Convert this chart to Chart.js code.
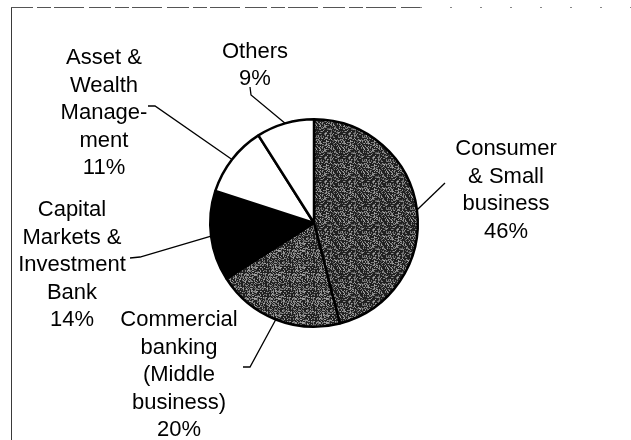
<!DOCTYPE html>
<html>
<head>
<meta charset="utf-8">
<script src="https://cdn.jsdelivr.net/npm/chart.js@4"></script>
<style>
  html, body { margin: 0; padding: 0; background: #fff; }
  canvas { display: block; }
</style>
</head>
<body>
<canvas id="segmentChart" width="631" height="440"></canvas>
<script>
const segments = ["Consumer & Small business", "Commercial banking (Middle business)", "Capital Markets & Investment Bank", "Asset & Wealth Management", "Others"];
const shares = [46, 20, 14, 11, 9];
const labelLines = [
    ["Consumer", "& Small", "business"],
    ["Commercial", "banking", "(Middle", "business)"],
    ["Capital", "Markets &", "Investment", "Bank"],
    ["Asset &", "Wealth", "Manage-", "ment"],
    ["Others"]
];

// where each text block sits and how its leader line bends
const labelLayout = [
    { x: 506, y: 155, path: [[445, 183]] },
    { x: 179, y: 326, path: [[250, 367], [243, 367]] },
    { x: 72, y: 216, path: [[140, 257], [130, 258]] },
    { x: 104, y: 64, path: [[155, 106], [148, 106]] },
    { x: 255, y: 57.5, path: [[251, 95], [250, 87]] }
];
const LINE_HEIGHT = 27.6;

// speckled grey fill like an old laser print
function speckle(density, seed) {
    const size = 24;
    const c = document.createElement("canvas");
    c.width = size;
    c.height = size;
    const g = c.getContext("2d");
    g.fillStyle = "#202020";
    g.fillRect(0, 0, size, size);
    let s = seed;
    for (let y = 0; y < size; y++) {
        for (let x = 0; x < size; x++) {
            s = (s * 1103515245 + 12345) % 2147483648;
            const r = s / 2147483648;
            if (r < density) {
                const v = 80 + Math.floor((r / density) * 90);
                g.fillStyle = `rgb(${v},${v},${v})`;
                g.fillRect(x, y, 1, 1);
            }
        }
    }
    return g.createPattern(c, "repeat");
}

const ctx = document.getElementById("segmentChart").getContext("2d");

const frame = {
    id: "frame",
    beforeDraw(chart) {
        const c = chart.ctx;
        c.save();
        c.strokeStyle = "#3a3a3a";
        c.lineWidth = 1;
        c.beginPath();
        c.moveTo(11.5, 8);
        c.lineTo(11.5, 440);
        c.stroke();
        c.strokeStyle = "#555";
        c.setLineDash([22, 4, 14, 3, 30, 5]);
        c.beginPath();
        c.moveTo(11, 7.5);
        c.lineTo(420, 7.5);
        c.stroke();
        c.setLineDash([2, 28]);
        c.strokeStyle = "#888";
        c.beginPath();
        c.moveTo(420, 7.5);
        c.lineTo(631, 7.5);
        c.stroke();
        c.restore();
    }
};

const sliceLabels = {
    id: "sliceLabels",
    afterDraw(chart) {
        const c = chart.ctx;
        const arcs = chart.getDatasetMeta(0).data;
        c.save();
        c.fillStyle = "#000";
        c.strokeStyle = "#000";
        c.lineWidth = 1.3;
        c.font = "22px 'Liberation Sans', Arial, sans-serif";
        c.textAlign = "center";
        c.textBaseline = "alphabetic";

        arcs.forEach((arc, i) => {
            const lay = labelLayout[i];
            const lines = labelLines[i].concat([shares[i] + "%"]);
            lines.forEach((t, k) => c.fillText(t, lay.x, lay.y + k * LINE_HEIGHT));

            const mid = (arc.startAngle + arc.endAngle) / 2;
            const sx = arc.x + Math.cos(mid) * arc.outerRadius;
            const sy = arc.y + Math.sin(mid) * arc.outerRadius;
            c.beginPath();
            c.moveTo(sx, sy);
            lay.path.forEach(p => c.lineTo(p[0], p[1]));
            c.stroke();
        });
        c.restore();
    }
};

new Chart(ctx, {
    type: "pie",
    data: {
        labels: segments,
        datasets: [{
            data: shares,
            backgroundColor: [speckle(0.4, 7), speckle(0.45, 31), "#000", "#fff", "#fff"],
            borderColor: "#000",
            borderWidth: 2.5,
            borderAlign: "center"
        }]
    },
    options: {
        responsive: false,
        animation: false,
        layout: { padding: { left: 209, right: 212, top: 118, bottom: 112 } },
        plugins: {
            legend: { display: false },
            tooltip: { enabled: false }
        }
    },
    plugins: [frame, sliceLabels]
});
</script>
</body>
</html>
